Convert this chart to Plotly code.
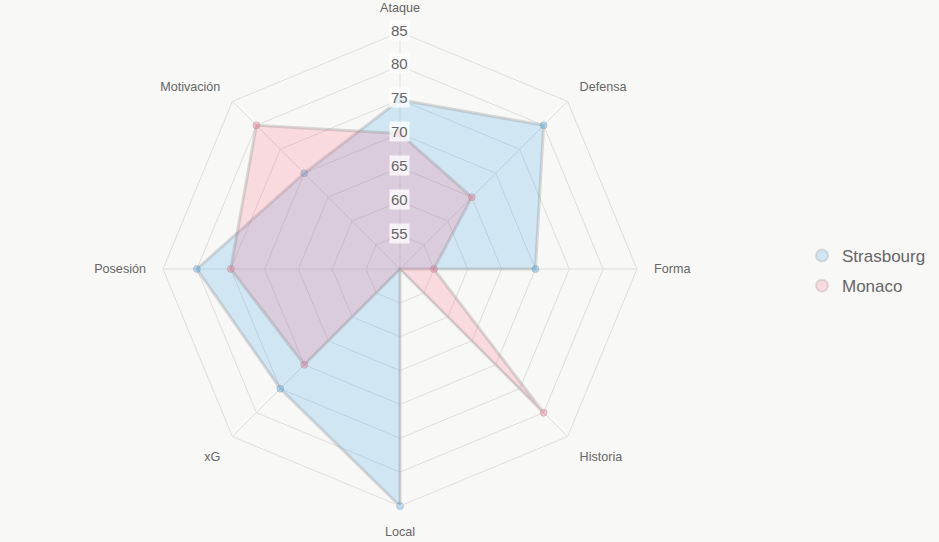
import plotly.graph_objects as go

categories = ["Ataque", "Defensa", "Forma", "Historia", "Local", "xG", "Posesión", "Motivación"]
strasbourg = [75, 80, 70, 50, 85, 75, 80, 70]
monaco = [70, 65, 55, 80, 50, 70, 75, 80]
tick_vals = [55, 60, 65, 70, 75, 80, 85]
r_min, r_max = 50, 85

W, H = 939, 542
cx, cy, R = 400, 269, 237  # pixel geometry of polar area
dom_x = [(cx - R) / W, (cx + R) / W]
dom_y = [1 - (cy + R) / H, 1 - (cy - R) / H]

blue_fill = "rgba(54,162,235,0.2)"
pink_fill = "rgba(255,99,132,0.2)"
edge = "rgba(140,140,140,0.3)"
grid = "#dedede"

fig = go.Figure()
for name, vals, fillc, mk in [("Strasbourg", strasbourg, blue_fill, "rgba(54,162,235,0.35)"),
                              ("Monaco", monaco, pink_fill, "rgba(255,99,132,0.35)")]:
    fig.add_trace(go.Scatterpolar(
        r=vals + vals[:1], theta=categories + categories[:1], name=name,
        mode="lines+markers", fill="toself", fillcolor=fillc,
        line=dict(color=edge, width=3),
        marker=dict(size=7, color=mk, line=dict(color="rgba(140,140,140,0.35)", width=1)),
        showlegend=False, hoverinfo="skip"))
for name, fillc in [("Strasbourg", blue_fill), ("Monaco", pink_fill)]:
    fig.add_trace(go.Scatterpolar(
        r=[None], theta=[categories[0]], name=name, mode="markers", legendgroup=name,
        marker=dict(size=17, color=fillc, line=dict(color="rgba(140,140,140,0.25)", width=1)),
        showlegend=True))

fig.update_layout(
    width=W, height=H,
    margin=dict(l=0, r=0, t=0, b=0),
    paper_bgcolor="#f8f8f6", plot_bgcolor="#f8f8f6",
    font=dict(family="Liberation Sans, Arial, sans-serif", color="#666"),
    polar=dict(
        domain=dict(x=dom_x, y=dom_y),
        bgcolor="rgba(0,0,0,0)",
        gridshape="linear",
        angularaxis=dict(direction="clockwise", rotation=90,
                         showline=True, linecolor=grid, linewidth=1,
                         gridcolor=grid, gridwidth=1,
                         ticks="outside", ticklen=14, tickcolor="rgba(0,0,0,0)",
                         tickfont=dict(size=12.6, color="#666")),
        radialaxis=dict(range=[r_min, r_max], tickvals=tick_vals, showticklabels=False,
                        showline=False, ticks="", gridcolor=grid, gridwidth=1),
    ),
    legend=dict(x=802 / W, y=0.5, xanchor="left", yanchor="middle",
                font=dict(size=17, color="#666"), bgcolor="rgba(0,0,0,0)",
                itemsizing="constant", tracegroupgap=5),
)

annotations = []
for t in tick_vals:
    frac = (t - r_min) / (r_max - r_min)
    annotations.append(dict(
        x=(dom_x[0] + dom_x[1]) / 2, y=(dom_y[0] + dom_y[1]) / 2 + frac * (dom_y[1] - dom_y[0]) / 2,
        xref="paper", yref="paper", text=str(t), showarrow=False, yshift=2,
        font=dict(size=15, color="#666"), bgcolor="rgba(255,255,255,0.75)",
        borderpad=1, xanchor="center", yanchor="middle"))
fig.update_layout(annotations=annotations)

fig.write_html("out.html")
